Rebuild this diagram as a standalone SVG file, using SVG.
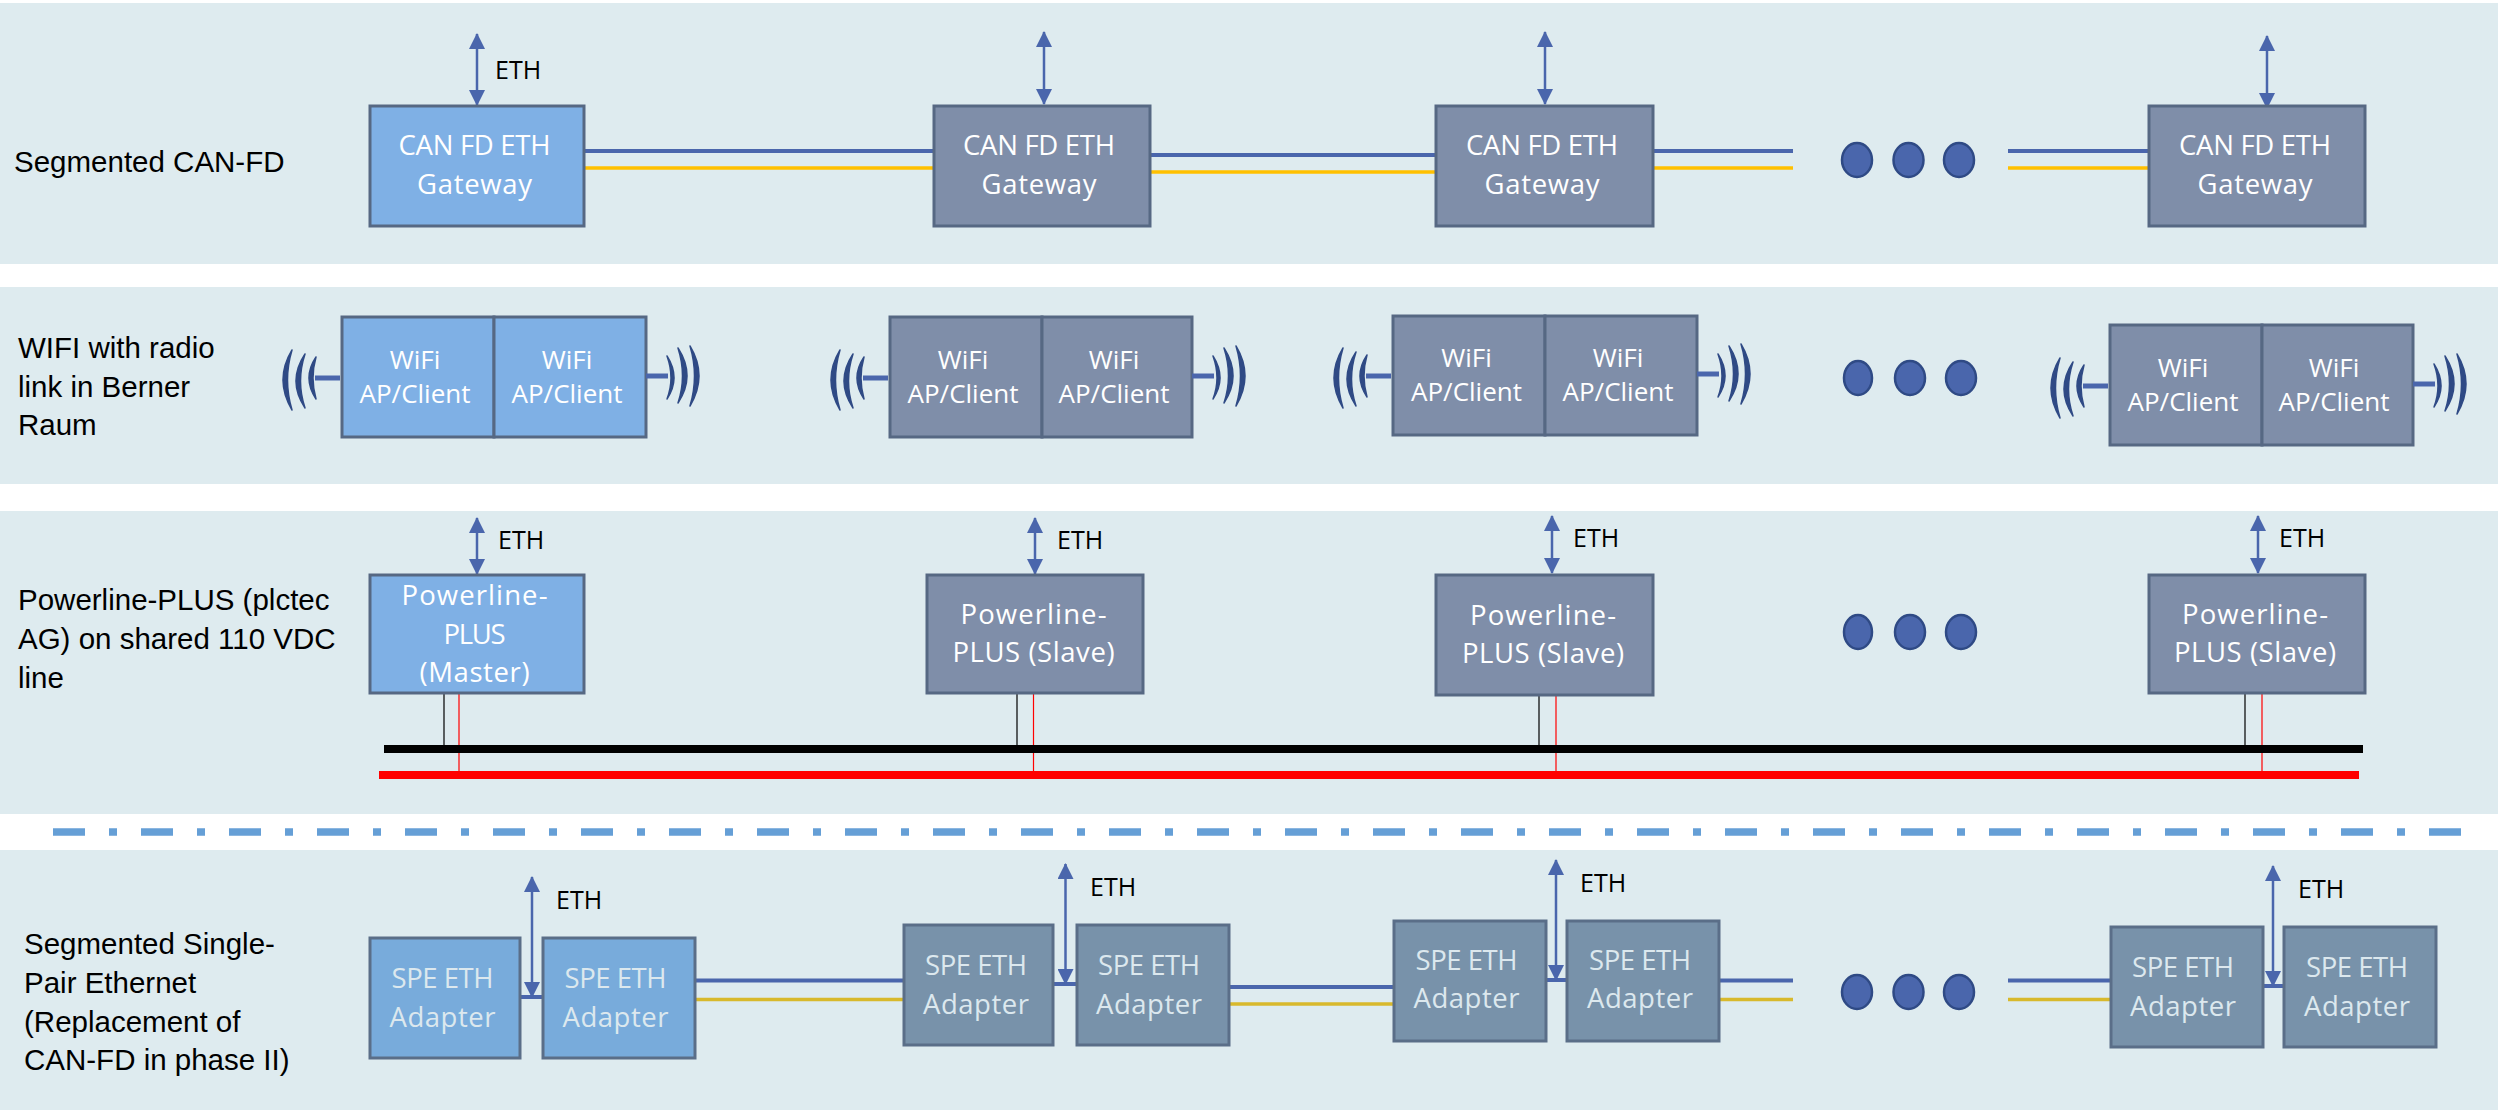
<svg xmlns="http://www.w3.org/2000/svg" width="2498" height="1110" viewBox="0 0 2498 1110">
<style>
.band{fill:#deebef}
.bl{fill:#7fb0e5;stroke:#566883;stroke-width:3}
.gr{fill:#7f8ea9;stroke:#566883;stroke-width:3}
.sb{fill:#78abdb;stroke:#5a6e88;stroke-width:3}
.sg{fill:#7892aa;stroke:#5a6e88;stroke-width:3}
text{font-family:"Open Sans","Noto Sans",sans-serif}
.t{font-size:27.500px;fill:#fff;text-anchor:middle}
.w{font-size:26px;fill:#fff;text-anchor:middle}
.s{font-size:27.500px;fill:#dce8ee;text-anchor:middle}
.e{font-size:25px;fill:#000}
.l{font-family:"Liberation Sans",Arial,sans-serif;font-size:29.500px;fill:#000}
.cb{stroke:#4a66ac;stroke-width:4;fill:none}
.cy{stroke:#ffc000;stroke-width:3.500;fill:none}
.cs{stroke:#d8b92c;stroke-width:3.500;fill:none}
.ar{stroke:#4a66ac;stroke-width:2.500;fill:none;marker-start:url(#ah);marker-end:url(#ah)}
.dot{fill:#4a66ac;stroke:#2f4a85;stroke-width:2.500}
.stub{stroke:#4a66ac;stroke-width:5;fill:none}
.arc{stroke:#2f4a85;stroke-width:1.500;fill:#2f4a85;stroke-linejoin:round}
.tk{stroke:#000;stroke-width:1.200}
.tr{stroke:#f00;stroke-width:1.200}
</style>
<defs>
<marker id="ah" viewBox="0 0 16 16" refX="15" refY="8" markerWidth="16" markerHeight="16" markerUnits="userSpaceOnUse" orient="auto-start-reverse"><path d="M0 0L16 8L0 16Z" fill="#4a66ac"/></marker>
<g id="antL"><path class="stub" d="M-27 -2H-2"/><path class="arc" d="M-26 -23Q-40 -2 -26 19Q-32 -2 -26 -23Z"/><path class="arc" d="M-37 -26Q-55 1 -37 28Q-46 1 -37 -26Z"/><path class="arc" d="M-50 -30Q-68 0 -50 30Q-59 0 -50 -30Z"/></g>
<g id="antR"><path class="stub" d="M0 0H22"/><path class="arc" d="M21 -20Q35 2 21 23Q29 2 21 -20Z"/><path class="arc" d="M32 -28Q50 0 32 27Q41 0 32 -28Z"/><path class="arc" d="M44 -30Q62 0 44 30Q53 0 44 -30Z"/></g>
</defs>
<g id="bands">
<rect class="band" x="0" y="3" width="2498" height="261"/>
<rect class="band" x="0" y="287" width="2498" height="197"/>
<rect class="band" x="0" y="511" width="2498" height="303"/>
<rect class="band" x="0" y="850" width="2498" height="260"/>
<path d="M53 832H2462" stroke="#659fd6" stroke-width="7.500" stroke-dasharray="32 24 8 24" fill="none"/>
</g>
<g id="labels">
<text class="l" x="14" y="172">Segmented CAN-FD</text>
<text class="l" x="18" y="358">WIFI with radio</text><text class="l" x="18" y="397">link in Berner</text><text class="l" x="18" y="435">Raum</text>
<text class="l" x="18" y="610">Powerline-PLUS (plctec</text><text class="l" x="18" y="649">AG) on shared 110 VDC</text><text class="l" x="18" y="688">line</text>
<text class="l" x="24" y="954">Segmented Single-</text><text class="l" x="24" y="993">Pair Ethernet</text><text class="l" x="24" y="1032">(Replacement of</text><text class="l" x="24" y="1070">CAN-FD in phase II)</text>
</g>
<g id="connectors">
<path class="cb" d="M584 151H933"/><path class="cy" d="M584 168H933"/>
<path class="cb" d="M1150 155H1436"/><path class="cy" d="M1150 172H1436"/>
<path class="cb" d="M1653 151H1793"/><path class="cy" d="M1653 168H1793"/>
<path class="cb" d="M2008 151H2148"/><path class="cy" d="M2008 168H2148"/>
<path class="ar" d="M477 34V105"/><path class="ar" d="M1044 32V104"/><path class="ar" d="M1545 32V104"/><path class="ar" d="M2267 36V108"/>
<path class="ar" d="M477 518V574"/><path class="ar" d="M1035 518V574"/><path class="ar" d="M1552 516V573"/><path class="ar" d="M2258 516V573"/>
<path class="tk" d="M444 693V746M1017 693V746M1539 693V746M2245 693V746"/>
<path class="tr" d="M459 693V771M1033.500 693V771M1556 693V771M2262 693V771"/>
<rect x="384" y="745" width="1979" height="8" fill="#000"/>
<rect x="379" y="771" width="1980" height="8" fill="#f00"/>
<path class="cb" d="M695 980.500H903"/><path class="cs" d="M695 999.500H903"/>
<path class="cb" d="M1229 987H1393"/><path class="cs" d="M1229 1004H1393"/>
<path class="cb" d="M1719 980.500H1793"/><path class="cs" d="M1719 999.500H1793"/>
<path class="cb" d="M2008 980.500H2110"/><path class="cs" d="M2008 999.500H2110"/>
<path class="cb" d="M520 997H542"/><path class="cb" d="M1053 984H1076"/><path class="cb" d="M1546 980H1566"/><path class="cb" d="M2263 986H2284"/>
<path class="ar" d="M532 877V997"/><path class="ar" d="M1065.500 864V984"/><path class="ar" d="M1556 860V980"/><path class="ar" d="M2273 866V986"/>
</g>
<g id="eth-labels">
<text class="e" x="495" y="79">ETH</text>
<text class="e" x="498" y="549">ETH</text><text class="e" x="1057" y="549">ETH</text><text class="e" x="1573" y="547">ETH</text><text class="e" x="2279" y="547">ETH</text>
<text class="e" x="556" y="909">ETH</text><text class="e" x="1090" y="896">ETH</text><text class="e" x="1580" y="892">ETH</text><text class="e" x="2298" y="898">ETH</text>
</g>
<g id="gw1"><rect class="bl" x="370" y="106" width="214" height="120"/><text class="t" x="474.500" y="155" textLength="152">CAN FD ETH</text><text class="t" x="474.500" y="194" textLength="115">Gateway</text></g>
<g id="gw2"><rect class="gr" x="934" y="106" width="216" height="120"/><text class="t" x="1039" y="155" textLength="152">CAN FD ETH</text><text class="t" x="1039" y="194" textLength="115">Gateway</text></g>
<g id="gw3"><rect class="gr" x="1436" y="106" width="217" height="120"/><text class="t" x="1542" y="155" textLength="152">CAN FD ETH</text><text class="t" x="1542" y="194" textLength="115">Gateway</text></g>
<g id="gw4"><rect class="gr" x="2149" y="106" width="216" height="120"/><text class="t" x="2255" y="155" textLength="152">CAN FD ETH</text><text class="t" x="2255" y="194" textLength="115">Gateway</text></g>
<g id="dots1"><ellipse class="dot" cx="1857" cy="160" rx="15" ry="17"/><ellipse class="dot" cx="1908.500" cy="160" rx="15" ry="17"/><ellipse class="dot" cx="1959" cy="160" rx="15" ry="17"/></g>
<g id="wifi1"><rect class="bl" x="342" y="317" width="152" height="120"/><rect class="bl" x="494" y="317" width="152" height="120"/><text class="w" x="415" y="369">WiFi</text><text class="w" x="415" y="403">AP/Client</text><text class="w" x="567" y="369">WiFi</text><text class="w" x="567" y="403">AP/Client</text><use href="#antL" x="342" y="380"/><use href="#antR" x="646" y="376"/></g>
<g id="wifi2"><rect class="gr" x="890" y="317" width="152" height="120"/><rect class="gr" x="1042" y="317" width="150" height="120"/><text class="w" x="963" y="369">WiFi</text><text class="w" x="963" y="403">AP/Client</text><text class="w" x="1114" y="369">WiFi</text><text class="w" x="1114" y="403">AP/Client</text><use href="#antL" x="890" y="380"/><use href="#antR" x="1192" y="376"/></g>
<g id="wifi3"><rect class="gr" x="1393" y="316" width="152" height="119"/><rect class="gr" x="1545" y="316" width="152" height="119"/><text class="w" x="1466.500" y="367">WiFi</text><text class="w" x="1466.500" y="401">AP/Client</text><text class="w" x="1618" y="367">WiFi</text><text class="w" x="1618" y="401">AP/Client</text><use href="#antL" x="1393" y="378"/><use href="#antR" x="1697" y="374"/></g>
<g id="wifi4"><rect class="gr" x="2110" y="325" width="152" height="120"/><rect class="gr" x="2262" y="325" width="151" height="120"/><text class="w" x="2183" y="377">WiFi</text><text class="w" x="2183" y="411">AP/Client</text><text class="w" x="2334" y="377">WiFi</text><text class="w" x="2334" y="411">AP/Client</text><use href="#antL" x="2110" y="388"/><use href="#antR" x="2413" y="384"/></g>
<g id="dots2"><ellipse class="dot" cx="1858" cy="378" rx="14" ry="17"/><ellipse class="dot" cx="1910" cy="378" rx="15" ry="17"/><ellipse class="dot" cx="1961" cy="378" rx="15" ry="17"/></g>
<g id="plc1"><rect class="bl" x="370" y="575" width="214" height="118"/><text class="t" x="474.500" y="605" textLength="146">Powerline-</text><text class="t" x="474.500" y="644" textLength="62">PLUS</text><text class="t" x="474.500" y="682" textLength="110">(Master)</text></g>
<g id="plc2"><rect class="gr" x="927" y="575" width="216" height="118"/><text class="t" x="1033.500" y="624" textLength="146">Powerline-</text><text class="t" x="1033.500" y="662" textLength="162">PLUS (Slave)</text></g>
<g id="plc3"><rect class="gr" x="1436" y="575" width="217" height="120"/><text class="t" x="1543" y="625" textLength="146">Powerline-</text><text class="t" x="1543" y="663" textLength="162">PLUS (Slave)</text></g>
<g id="plc4"><rect class="gr" x="2149" y="575" width="216" height="118"/><text class="t" x="2255" y="624" textLength="146">Powerline-</text><text class="t" x="2255" y="662" textLength="162">PLUS (Slave)</text></g>
<g id="dots3"><ellipse class="dot" cx="1858" cy="632" rx="14" ry="17"/><ellipse class="dot" cx="1910" cy="632" rx="15" ry="17"/><ellipse class="dot" cx="1961" cy="632" rx="15" ry="17"/></g>
<g id="spe1"><rect class="sb" x="370" y="938" width="150" height="120"/><text class="s" x="442.500" y="988" textLength="102">SPE ETH</text><text class="s" x="442.500" y="1027" textLength="106">Adapter</text></g>
<g id="spe2"><rect class="sb" x="543" y="938" width="152" height="120"/><text class="s" x="615.500" y="988" textLength="102">SPE ETH</text><text class="s" x="615.500" y="1027" textLength="106">Adapter</text></g>
<g id="spe3"><rect class="sg" x="904" y="925" width="149" height="120"/><text class="s" x="976" y="975" textLength="102">SPE ETH</text><text class="s" x="976" y="1014" textLength="106">Adapter</text></g>
<g id="spe4"><rect class="sg" x="1077" y="925" width="152" height="120"/><text class="s" x="1149" y="975" textLength="102">SPE ETH</text><text class="s" x="1149" y="1014" textLength="106">Adapter</text></g>
<g id="spe5"><rect class="sg" x="1394" y="921" width="152" height="120"/><text class="s" x="1466.500" y="970" textLength="102">SPE ETH</text><text class="s" x="1466.500" y="1008" textLength="106">Adapter</text></g>
<g id="spe6"><rect class="sg" x="1567" y="921" width="152" height="120"/><text class="s" x="1640" y="970" textLength="102">SPE ETH</text><text class="s" x="1640" y="1008" textLength="106">Adapter</text></g>
<g id="spe7"><rect class="sg" x="2111" y="927" width="152" height="120"/><text class="s" x="2183" y="977" textLength="102">SPE ETH</text><text class="s" x="2183" y="1016" textLength="106">Adapter</text></g>
<g id="spe8"><rect class="sg" x="2284" y="927" width="152" height="120"/><text class="s" x="2357" y="977" textLength="102">SPE ETH</text><text class="s" x="2357" y="1016" textLength="106">Adapter</text></g>
<g id="dots4"><ellipse class="dot" cx="1857" cy="992" rx="15" ry="17"/><ellipse class="dot" cx="1908.500" cy="992" rx="15" ry="17"/><ellipse class="dot" cx="1959" cy="992" rx="15" ry="17"/></g>
</svg>
